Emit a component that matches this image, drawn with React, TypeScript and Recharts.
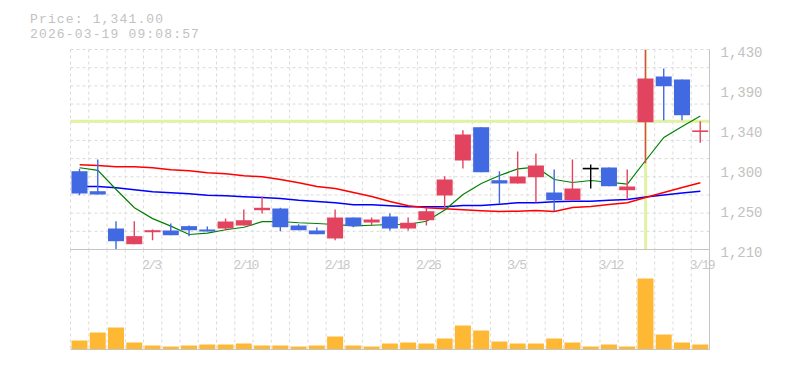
import React from 'react';
import { ComposedChart, Bar, Line, XAxis, YAxis, CartesianGrid, ReferenceLine } from 'recharts';

const dates = ['1/28','1/29','1/30','2/2','2/3','2/4','2/5','2/6','2/9','2/10','2/12','2/13','2/16','2/17','2/18','2/19','2/20','2/24','2/25','2/26','2/27','3/2','3/3','3/4','3/5','3/6','3/9','3/10','3/11','3/12','3/13','3/16','3/17','3/18','3/19'];
const xTickLabels = ['2/3','2/10','2/18','2/26','3/5','3/12','3/19'];
const yTicks = [1210, 1254, 1298, 1342, 1386, 1430];

const opens = [1296.1,1274.1,1233.1,1215.8,1229.0,1230.9,1235.7,1232.0,1233.1,1236.4,1253.2,1255.1,1236.4,1230.9,1222.1,1245.2,1239.7,1246.3,1233.1,1242.2,1269.4,1307.9,1344.5,1286.2,1282.6,1289.5,1272.7,1264.2,1299.9,1300.2,1275.2,1350.0,1400.3,1397.0,1339.5];
const highs = [1298.8,1309.0,1241.1,1241.1,1232.0,1238.6,1236.4,1235.3,1244.1,1254.0,1268.3,1256.0,1237.8,1234.2,1254.0,1245.2,1245.2,1249.6,1245.2,1255.9,1290.6,1341.2,1344.5,1296.1,1317.8,1315.6,1298.0,1309.0,1303.5,1300.2,1298.0,1430.0,1409.1,1397.0,1351.1];
const lows = [1269.7,1270.5,1210.0,1215.8,1220.2,1225.7,1224.7,1229.8,1231.2,1236.4,1249.6,1230.1,1231.2,1226.8,1220.2,1234.5,1236.7,1230.9,1230.9,1236.4,1255.1,1299.1,1295.0,1260.3,1282.6,1261.7,1252.1,1264.2,1277.1,1279.6,1265.0,1305.0,1352.2,1352.2,1327.4];
const closes = [1271.6,1270.5,1219.1,1224.7,1231.2,1225.7,1231.2,1229.8,1240.8,1242.2,1255.9,1234.5,1231.2,1226.8,1245.2,1235.7,1243.0,1233.1,1239.4,1252.1,1287.0,1336.5,1295.0,1282.6,1290.3,1302.4,1264.2,1277.1,1299.9,1279.6,1279.3,1398.1,1389.6,1357.7,1341.0];
const volumes = [45000,85000,110000,35000,20000,15000,20000,25000,25000,30000,20000,20000,15000,20000,65000,20000,15000,30000,35000,30000,55000,120000,95000,40000,30000,30000,55000,35000,15000,25000,15000,355000,75000,35000,25000];
const maShort = [1299.9,1297.0,1276.0,1255.9,1244.0,1235.7,1226.5,1228.0,1231.7,1234.5,1240.6,1240.8,1239.4,1238.6,1237.5,1236.0,1236.7,1237.5,1237.8,1241.1,1253.5,1270.5,1282.6,1291.4,1298.6,1300.5,1287.0,1283.7,1285.9,1284.0,1282.0,1307.9,1333.2,1345.3,1356.8];
const maMid = [1303.2,1302.4,1301.0,1301.0,1299.9,1297.7,1296.6,1294.4,1293.3,1291.1,1290.0,1287.0,1283.4,1279.3,1277.1,1272.7,1268.3,1262.8,1258.1,1255.9,1254.8,1253.7,1252.6,1251.8,1252.1,1252.9,1251.8,1256.2,1257.3,1259.5,1261.4,1267.2,1272.7,1278.2,1283.4];
const maLong = [1279.3,1279.3,1277.9,1275.7,1273.5,1272.4,1271.3,1269.7,1269.1,1268.0,1267.2,1266.1,1264.2,1262.8,1261.4,1259.2,1259.2,1258.1,1257.0,1257.0,1257.0,1258.4,1258.4,1259.8,1261.4,1261.4,1262.5,1263.1,1263.1,1264.2,1265.0,1267.8,1270.0,1272.2,1274.1];

const crossDate = '3/16';
const crossPrice = 1351;
const priceText = 'Price: 1,341.00';
const timeText = '2026-03-19 09:08:57';

const data = dates.map((d, i) => ({
  date: d,
  open: opens[i],
  high: highs[i],
  low: lows[i],
  close: closes[i],
  range: [lows[i], highs[i]],
  volume: volumes[i],
  maShort: maShort[i],
  maMid: maMid[i],
  maLong: maLong[i],
}));

const RED = '#E2445F';
const BLUE = '#4169E1';
const ORANGE = '#FFB833';
const LIME = '#E0F3A2';
const GRID = '#dadada';
const AXIS = '#c4c4c4';
const TEXT = '#c2c2c2';
const FONT = '"Liberation Mono", "DejaVu Sans Mono", monospace';

const Candle = (props: any) => {
  const { x, y, width, height, payload } = props;
  if (!payload || x == null) return null;
  const { open, close, high, low } = payload;
  const top = Math.min(y, y + height);
  const h = Math.abs(height);
  const span = high - low;
  const py = (v: number) => (span > 0 ? top + ((high - v) / span) * h : top);
  const color = close > open ? RED : close < open ? BLUE : '#000000';
  const cx = x + width / 2;
  const bTop = py(Math.max(open, close));
  const bBot = py(Math.min(open, close));
  const bh = Math.max(bBot - bTop, 1.6);
  return (
    <g>
      <line x1={cx} x2={cx} y1={top} y2={top + h} stroke={color} strokeWidth={1.4} />
      <rect x={x} y={bTop} width={width} height={bh} fill={color} />
    </g>
  );
};

const XTick = (props: any) => {
  const { x, y, payload } = props;
  if (!xTickLabels.includes(payload.value)) return <g />;
  return (
    <text x={x - 10.5} y={y + 17.5} fontSize={13} letterSpacing={-1.8} fill="#c8c8c8" fontFamily={FONT}>
      {payload.value}
    </text>
  );
};

const YTick = (props: any) => {
  const { x, y, payload } = props;
  const v = Math.round(payload.value / 10) * 10;
  return (
    <text x={x} y={y + 7.5} fontSize={14} fill={TEXT} fontFamily={FONT} textAnchor="start">
      {v.toLocaleString('en-US')}
    </text>
  );
};

const vGen = (args: any) => {
  const o = args && args.offset;
  if (!o) return [];
  return Array.from({ length: dates.length + 1 }, (_, k) => o.left + (k * o.width) / dates.length);
};
const hGen = (args: any) => {
  const o = args && args.offset;
  if (!o) return [];
  return Array.from({ length: 12 }, (_, k) => o.top + (k * o.height) / 11);
};

export default function App() {
  return (
    <div style={{ position: 'absolute', left: 0, top: 0, width: 785, height: 370, background: '#fff', overflow: 'hidden' }}>
      <div style={{ position: 'absolute', left: 0, top: 0 }}>
        <ComposedChart width={785} height={275} data={data} margin={{ top: 49.5, right: 0, left: 70.5, bottom: 5.5 }} barSize={16}>
          <CartesianGrid stroke={GRID} strokeDasharray="3 3" verticalCoordinatesGenerator={vGen} horizontalCoordinatesGenerator={hGen} />
          <XAxis dataKey="date" interval={0} tickLine={false} tickSize={0} height={20} axisLine={{ stroke: AXIS }} tick={<XTick />} />
          <YAxis orientation="right" domain={[1210, 1430]} ticks={yTicks} allowDataOverflow interval={0} width={75.5} tickLine={false} tickSize={0} tickMargin={11} axisLine={{ stroke: AXIS }} tick={<YTick />} />
          <ReferenceLine x={crossDate} stroke={LIME} strokeWidth={3} zIndex={-90} />
          <ReferenceLine y={crossPrice} stroke={LIME} strokeWidth={3} zIndex={-90} />
          <Line dataKey="maLong" type="linear" stroke="#0000ff" strokeWidth={1.5} dot={false} activeDot={false} isAnimationActive={false} />
          <Line dataKey="maMid" type="linear" stroke="#ff0000" strokeWidth={1.5} dot={false} activeDot={false} isAnimationActive={false} />
          <Line dataKey="maShort" type="linear" stroke="#008000" strokeWidth={1.2} dot={false} activeDot={false} isAnimationActive={false} />
          <Bar dataKey="range" shape={<Candle />} isAnimationActive={false} zIndex={450} />
        </ComposedChart>
      </div>
      <div style={{ position: 'absolute', left: 0, top: 0 }}>
        <ComposedChart width={785} height={370} data={data} margin={{ top: 249.5, right: 0, left: 70.5, bottom: 19.5 }} barSize={16}>
          <CartesianGrid stroke={GRID} strokeDasharray="3 3" horizontal={false} verticalCoordinatesGenerator={vGen} />
          <XAxis dataKey="date" height={1} tick={false} tickLine={false} axisLine={{ stroke: AXIS }} />
          <YAxis orientation="right" domain={[0, 500000]} width={75.5} tick={false} tickLine={false} axisLine={{ stroke: AXIS }} />
          <Bar dataKey="volume" fill={ORANGE} isAnimationActive={false} />
        </ComposedChart>
      </div>
      <svg width={785} height={60} style={{ position: 'absolute', left: 0, top: 0 }}>
        <text x={30} y={22.5} fontSize={13} letterSpacing={1.15} fill={TEXT} fontFamily={FONT}>{priceText}</text>
        <text x={30} y={37.5} fontSize={13} letterSpacing={1.15} fill={TEXT} fontFamily={FONT}>{timeText}</text>
      </svg>
    </div>
  );
}
